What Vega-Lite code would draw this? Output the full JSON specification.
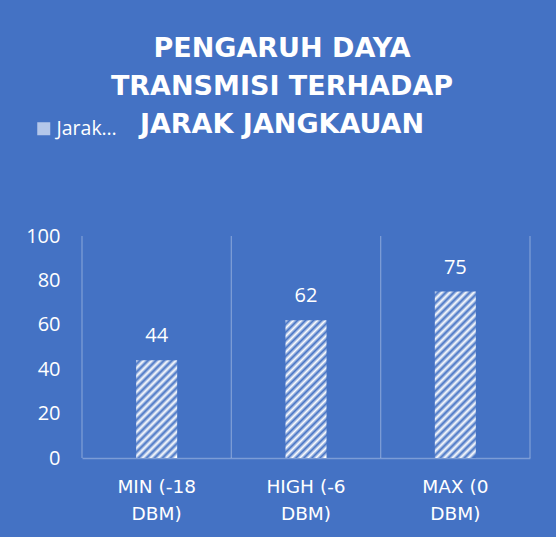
{
  "$schema": "https://vega.github.io/schema/vega-lite/v6.json",
  "width": 448,
  "height": 222,
  "autosize": "none",
  "padding": {"left": 82, "top": 236, "right": 26, "bottom": 79},
  "background": "#4472C4",
  "config": {"view": {"stroke": null}},
  "title": {
    "text": ["PENGARUH DAYA", "TRANSMISI TERHADAP", "JARAK JANGKAUAN"],
    "font": "DejaVu Sans",
    "fontSize": 27,
    "fontWeight": "bold",
    "color": "#ffffff",
    "lineHeight": 38,
    "anchor": "middle",
    "frame": "group",
    "dx": -24,
    "dy": 107,
    "offset": 87
  },
  "data": {
    "values": [
      {"cat": "MIN (-18 DBM)", "k": "min", "v": 44},
      {"cat": "HIGH (-6 DBM)", "k": "high", "v": 62},
      {"cat": "MAX (0 DBM)", "k": "max", "v": 75}
    ]
  },
  "encoding": {
    "x": {
      "field": "cat",
      "type": "nominal",
      "sort": null,
      "scale": {"paddingInner": 0, "paddingOuter": 0},
      "axis": {
        "title": null,
        "labelAngle": 0,
        "grid": false,
        "ticks": false,
        "domain": true,
        "domainColor": "#ffffff",
        "domainOpacity": 0.3,
        "domainWidth": 1.3,
        "labelFont": "DejaVu Sans",
        "labelFontSize": 18.5,
        "labelColor": "#ffffff",
        "labelPadding": 19,
        "labelLineHeight": 27,
        "labelExpr": "[substring(datum.value, 0, indexof(datum.value, ' DBM')), 'DBM)']"
      }
    },
    "y": {
      "field": "v",
      "type": "quantitative",
      "scale": {"domain": [0, 100]},
      "axis": {
        "title": null,
        "values": [0, 20, 40, 60, 80, 100],
        "grid": false,
        "domain": false,
        "ticks": false,
        "labelFont": "Open Sans",
        "labelFontSize": 20,
        "labelColor": "#ffffff",
        "labelPadding": 22
      }
    }
  },
  "layer": [
    {
      "mark": {"type": "rule", "color": "#ffffff", "opacity": 0.3, "strokeWidth": 1.3},
      "encoding": {
        "x": {"field": "cat", "type": "nominal", "sort": null, "bandPosition": 0},
        "y": {"datum": 0},
        "y2": {"datum": 100}
      }
    },
    {
      "transform": [{"filter": "datum.k === 'max'"}],
      "mark": {"type": "rule", "color": "#ffffff", "opacity": 0.3, "strokeWidth": 1.3},
      "encoding": {
        "x": {"field": "cat", "type": "nominal", "sort": null, "bandPosition": 1},
        "y": {"datum": 0},
        "y2": {"datum": 100}
      }
    },
    {
      "transform": [{"filter": "datum.k === 'min'"}],
      "mark": {"type": "bar", "width": {"band": 0.2746},
        "fill": {"gradient": "linear", "x1": 0, "y1": 0, "x2": 0.5067, "y2": 1.2071, "stops": [{"offset":0,"color":"#ffffff"},{"offset":0.0288,"color":"#4472c4"},{"offset":0.0577,"color":"#ffffff"},{"offset":0.0865,"color":"#4472c4"},{"offset":0.1154,"color":"#ffffff"},{"offset":0.1442,"color":"#4472c4"},{"offset":0.1731,"color":"#ffffff"},{"offset":0.2019,"color":"#4472c4"},{"offset":0.2307,"color":"#ffffff"},{"offset":0.2596,"color":"#4472c4"},{"offset":0.2884,"color":"#ffffff"},{"offset":0.3173,"color":"#4472c4"},{"offset":0.3461,"color":"#ffffff"},{"offset":0.375,"color":"#4472c4"},{"offset":0.4038,"color":"#ffffff"},{"offset":0.4326,"color":"#4472c4"},{"offset":0.4615,"color":"#ffffff"},{"offset":0.4903,"color":"#4472c4"},{"offset":0.5192,"color":"#ffffff"},{"offset":0.548,"color":"#4472c4"},{"offset":0.5769,"color":"#ffffff"},{"offset":0.6057,"color":"#4472c4"},{"offset":0.6345,"color":"#ffffff"},{"offset":0.6634,"color":"#4472c4"},{"offset":0.6922,"color":"#ffffff"},{"offset":0.7211,"color":"#4472c4"},{"offset":0.7499,"color":"#ffffff"},{"offset":0.7788,"color":"#4472c4"},{"offset":0.8076,"color":"#ffffff"},{"offset":0.8364,"color":"#4472c4"},{"offset":0.8653,"color":"#ffffff"},{"offset":0.8941,"color":"#4472c4"},{"offset":0.923,"color":"#ffffff"},{"offset":0.9518,"color":"#4472c4"},{"offset":0.9807,"color":"#ffffff"}]}
      }
    },
    {
      "transform": [{"filter": "datum.k === 'high'"}],
      "mark": {"type": "bar", "width": {"band": 0.2746},
        "fill": {"gradient": "linear", "x1": 0, "y1": 0, "x2": 0.3551, "y2": 1.1921, "stops": [{"offset":0,"color":"#ffffff"},{"offset":0.0224,"color":"#4472c4"},{"offset":0.0448,"color":"#ffffff"},{"offset":0.0672,"color":"#4472c4"},{"offset":0.0896,"color":"#ffffff"},{"offset":0.112,"color":"#4472c4"},{"offset":0.1344,"color":"#ffffff"},{"offset":0.1567,"color":"#4472c4"},{"offset":0.1791,"color":"#ffffff"},{"offset":0.2015,"color":"#4472c4"},{"offset":0.2239,"color":"#ffffff"},{"offset":0.2463,"color":"#4472c4"},{"offset":0.2687,"color":"#ffffff"},{"offset":0.2911,"color":"#4472c4"},{"offset":0.3135,"color":"#ffffff"},{"offset":0.3359,"color":"#4472c4"},{"offset":0.3583,"color":"#ffffff"},{"offset":0.3807,"color":"#4472c4"},{"offset":0.4031,"color":"#ffffff"},{"offset":0.4254,"color":"#4472c4"},{"offset":0.4478,"color":"#ffffff"},{"offset":0.4702,"color":"#4472c4"},{"offset":0.4926,"color":"#ffffff"},{"offset":0.515,"color":"#4472c4"},{"offset":0.5374,"color":"#ffffff"},{"offset":0.5598,"color":"#4472c4"},{"offset":0.5822,"color":"#ffffff"},{"offset":0.6046,"color":"#4472c4"},{"offset":0.627,"color":"#ffffff"},{"offset":0.6494,"color":"#4472c4"},{"offset":0.6718,"color":"#ffffff"},{"offset":0.6942,"color":"#4472c4"},{"offset":0.7165,"color":"#ffffff"},{"offset":0.7389,"color":"#4472c4"},{"offset":0.7613,"color":"#ffffff"},{"offset":0.7837,"color":"#4472c4"},{"offset":0.8061,"color":"#ffffff"},{"offset":0.8285,"color":"#4472c4"},{"offset":0.8509,"color":"#ffffff"},{"offset":0.8733,"color":"#4472c4"},{"offset":0.8957,"color":"#ffffff"},{"offset":0.9181,"color":"#4472c4"},{"offset":0.9405,"color":"#ffffff"},{"offset":0.9629,"color":"#4472c4"},{"offset":0.9852,"color":"#ffffff"}]}
      }
    },
    {
      "transform": [{"filter": "datum.k === 'max'"}],
      "mark": {"type": "bar", "width": {"band": 0.2746},
        "fill": {"gradient": "linear", "x1": 0, "y1": 0, "x2": 0.2893, "y2": 1.175, "stops": [{"offset":0,"color":"#ffffff"},{"offset":0.0193,"color":"#4472c4"},{"offset":0.0386,"color":"#ffffff"},{"offset":0.0578,"color":"#4472c4"},{"offset":0.0771,"color":"#ffffff"},{"offset":0.0964,"color":"#4472c4"},{"offset":0.1157,"color":"#ffffff"},{"offset":0.1349,"color":"#4472c4"},{"offset":0.1542,"color":"#ffffff"},{"offset":0.1735,"color":"#4472c4"},{"offset":0.1928,"color":"#ffffff"},{"offset":0.212,"color":"#4472c4"},{"offset":0.2313,"color":"#ffffff"},{"offset":0.2506,"color":"#4472c4"},{"offset":0.2699,"color":"#ffffff"},{"offset":0.2892,"color":"#4472c4"},{"offset":0.3084,"color":"#ffffff"},{"offset":0.3277,"color":"#4472c4"},{"offset":0.347,"color":"#ffffff"},{"offset":0.3663,"color":"#4472c4"},{"offset":0.3855,"color":"#ffffff"},{"offset":0.4048,"color":"#4472c4"},{"offset":0.4241,"color":"#ffffff"},{"offset":0.4434,"color":"#4472c4"},{"offset":0.4626,"color":"#ffffff"},{"offset":0.4819,"color":"#4472c4"},{"offset":0.5012,"color":"#ffffff"},{"offset":0.5205,"color":"#4472c4"},{"offset":0.5398,"color":"#ffffff"},{"offset":0.559,"color":"#4472c4"},{"offset":0.5783,"color":"#ffffff"},{"offset":0.5976,"color":"#4472c4"},{"offset":0.6169,"color":"#ffffff"},{"offset":0.6361,"color":"#4472c4"},{"offset":0.6554,"color":"#ffffff"},{"offset":0.6747,"color":"#4472c4"},{"offset":0.694,"color":"#ffffff"},{"offset":0.7132,"color":"#4472c4"},{"offset":0.7325,"color":"#ffffff"},{"offset":0.7518,"color":"#4472c4"},{"offset":0.7711,"color":"#ffffff"},{"offset":0.7904,"color":"#4472c4"},{"offset":0.8096,"color":"#ffffff"},{"offset":0.8289,"color":"#4472c4"},{"offset":0.8482,"color":"#ffffff"},{"offset":0.8675,"color":"#4472c4"},{"offset":0.8867,"color":"#ffffff"},{"offset":0.906,"color":"#4472c4"},{"offset":0.9253,"color":"#ffffff"},{"offset":0.9446,"color":"#4472c4"},{"offset":0.9639,"color":"#ffffff"},{"offset":0.9831,"color":"#4472c4"}]}
      }
    },
    {
      "mark": {"type": "bar", "width": {"band": 0.2746}, "fillOpacity": 0},
      "encoding": {
        "color": {
          "datum": "Jarak Jangkauan",
          "type": "nominal",
          "scale": {"range": ["#b4c7ea"]},
          "legend": {
            "title": null,
            "orient": "none",
            "legendX": -48,
            "legendY": -117,
            "padding": 0,
            "symbolType": "square",
            "symbolSize": 169,
            "symbolOpacity": 1,
            "labelOffset": 3,
            "labelFont": "Open Sans",
            "labelFontSize": 19.5,
            "labelColor": "#ffffff",
            "labelLimit": 64,
            "encode": {
              "symbols": {
                "update": {
                  "fill": {"value": {"gradient": "linear", "x1": 0, "y1": 0, "x2": 1, "y2": 1, "stops": [{"offset":0,"color":"#ffffff"},{"offset":0.1538,"color":"#4472c4"},{"offset":0.3077,"color":"#ffffff"},{"offset":0.4615,"color":"#4472c4"},{"offset":0.6154,"color":"#ffffff"},{"offset":0.7692,"color":"#4472c4"},{"offset":0.9231,"color":"#ffffff"}]}},
                  "fillOpacity": {"value": 1},
                  "strokeWidth": {"value": 0}
                }
              }
            }
          }
        }
      }
    },
    {
      "mark": {"type": "text", "dy": -18, "baseline": "alphabetic", "font": "Open Sans", "fontSize": 20, "color": "#ffffff"},
      "encoding": {"text": {"field": "v", "type": "quantitative"}}
    }
  ]
}
